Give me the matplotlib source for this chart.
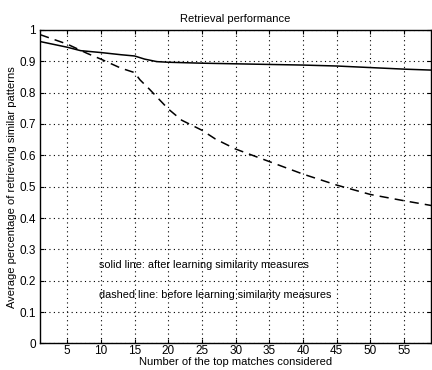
import matplotlib
matplotlib.use('Agg')
import matplotlib.pyplot as plt

# Data
k_solid = [1, 5, 7, 10, 13, 15, 16.5, 18.3, 20, 25, 30, 35, 40, 45, 50, 55, 59]
after = [0.963, 0.945, 0.934, 0.928, 0.921, 0.917, 0.907, 0.899, 0.897, 0.894,
         0.892, 0.890, 0.888, 0.885, 0.880, 0.875, 0.872]

k_dashed = [1, 5, 8, 10, 13, 15, 15.8, 17.3, 20, 22, 25, 27, 30, 35, 40, 45, 50, 55, 59]
before = [0.985, 0.955, 0.925, 0.907, 0.878, 0.864, 0.841, 0.809, 0.748, 0.712,
          0.680, 0.652, 0.620, 0.580, 0.540, 0.505, 0.475, 0.455, 0.440]

xticks = [5, 10, 15, 20, 25, 30, 35, 40, 45, 50, 55]
yticks = [0, 0.1, 0.2, 0.3, 0.4, 0.5, 0.6, 0.7, 0.8, 0.9, 1]

plt.rcParams['font.family'] = ['Liberation Sans', 'DejaVu Sans']

fig = plt.figure(figsize=(4.32, 3.70), dpi=100, facecolor='white')
ax = fig.add_axes([0.093, 0.072, 0.905, 0.847])

ax.plot(k_solid, after, color='black', linewidth=1.1, linestyle='-')
ax.plot(k_dashed, before, color='black', linewidth=1.1, linestyle=(0, (6, 4)))

ax.set_xlim(1, 59)
ax.set_ylim(0, 1)
ax.set_xticks(xticks)
ax.set_yticks(yticks)
ax.set_yticklabels(['0', '0.1', '0.2', '0.3', '0.4', '0.5', '0.6', '0.7', '0.8', '0.9', '1'])
ax.tick_params(direction='in', length=3, labelsize=8.5, pad=3)
ax.tick_params(axis='x', top=True, pad=1.5)
ax.tick_params(axis='y', right=True)
ax.grid(True, color='black', linestyle=(0, (1, 3)), linewidth=0.8)
for s in ax.spines.values():
    s.set_linewidth(1.0)

ax.set_title('Retrieval performance', fontsize=8, pad=6)
ax.set_xlabel('Number of the top matches considered', fontsize=8, labelpad=0)
ax.set_ylabel('Average percentage of retrieving similar patterns', fontsize=8, labelpad=2)

ax.text(9.7, 0.25, 'solid line: after learning similarity measures',
        fontsize=7.8, va='center', ha='left')
ax.text(9.7, 0.153, 'dashed line: before learning similarity measures',
        fontsize=7.8, va='center', ha='left')

fig.savefig('out.png', dpi=100, facecolor='white')
plt.close(fig)
